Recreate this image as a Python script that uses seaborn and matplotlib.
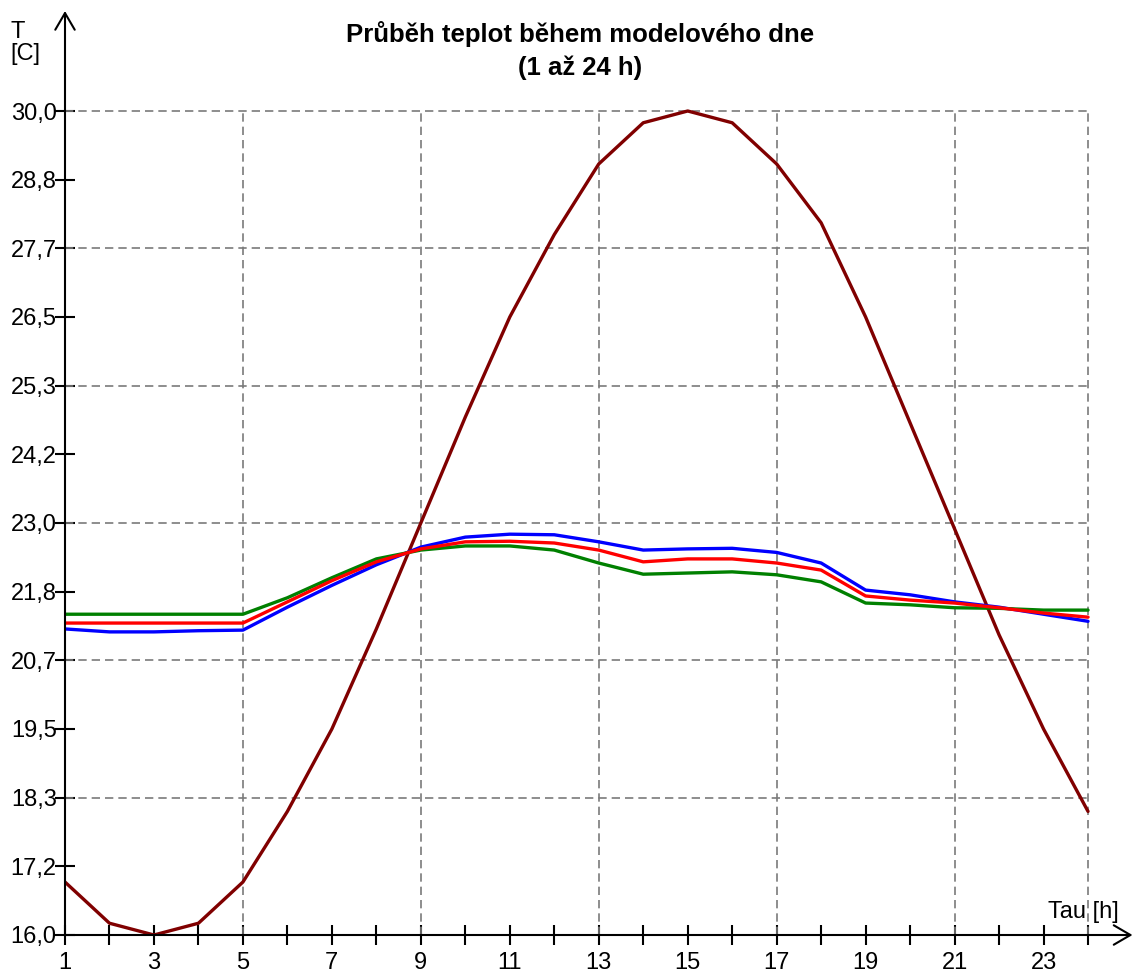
import numpy as np
import pandas as pd
import matplotlib
matplotlib.use("Agg")
import matplotlib.pyplot as plt
import seaborn as sns

# ---------------- data ----------------
hours = list(range(1, 25))
t_outdoor = [16.9, 16.2, 16.0, 16.2, 16.9, 18.1, 19.5, 21.2, 23.0, 24.8, 26.5, 27.9,
             29.1, 29.8, 30.0, 29.8, 29.1, 28.1, 26.5, 24.7, 22.9, 21.1, 19.5, 18.1]
t_blue = [21.20, 21.15, 21.15, 21.17, 21.18, 21.57, 21.94, 22.29, 22.59, 22.76, 22.81, 22.80,
          22.68, 22.54, 22.56, 22.57, 22.50, 22.32, 21.86, 21.78, 21.66, 21.57, 21.45, 21.33]
t_red = [21.30, 21.30, 21.30, 21.30, 21.30, 21.66, 22.02, 22.34, 22.56, 22.68, 22.69, 22.66,
         22.54, 22.34, 22.39, 22.39, 22.32, 22.20, 21.76, 21.69, 21.64, 21.56, 21.47, 21.40]
t_green = [21.45, 21.45, 21.45, 21.45, 21.45, 21.73, 22.07, 22.39, 22.54, 22.61, 22.61, 22.54,
           22.32, 22.13, 22.15, 22.17, 22.12, 22.00, 21.64, 21.61, 21.56, 21.55, 21.52, 21.52]

x_tick_labels = [str(h) if h % 2 == 1 else "" for h in hours]
y_tick_labels = ["16,0", "17,2", "18,3", "19,5", "20,7", "21,8", "23,0",
                 "24,2", "25,3", "26,5", "27,7", "28,8", "30,0"]
title_text = "Průběh teplot během modelového dne\n(1 až 24 h)"
y_label = "T\n[C]"
x_label = "Tau [h]"

# ---------------- style ----------------
sns.set_theme(style="white")
plt.rcParams["font.family"] = ["Liberation Sans", "DejaVu Sans"]
plt.rcParams["text.color"] = "black"
plt.rcParams["xtick.color"] = "black"
plt.rcParams["ytick.color"] = "black"

W, H = 1135, 973
fig = plt.figure(figsize=(W / 100, H / 100), dpi=100)
fig.patch.set_facecolor("white")

# axes placement (pixel-based)
x0_px, x1_px = 65, 1132.5      # x = 1 .. 25
y0_px, y1_px = 935, 11         # y = 16 .. ~31.7
ax = fig.add_axes([x0_px / W, (H - y0_px) / H, (x1_px - x0_px) / W, (y0_px - y1_px) / H])
ax.set_xlim(1, 25)
ax.set_ylim(16, 16 + (y0_px - y1_px) / (824 / 14))
ax.set_facecolor("white")
for s in ax.spines.values():
    s.set_visible(False)

# grid (box region 1..24 x 16..30)
grid_kw = dict(colors="#7a7a7a", linewidth=1.2, linestyles=(0, (5, 3)), zorder=1)
y_ticks = np.linspace(16, 30, 13)
ax.hlines(y_ticks[2::2], 1, 24, **grid_kw)
ax.vlines([5, 9, 13, 17, 21, 24], 16, 30, **grid_kw)

# lines
lw = 2.4
sns.lineplot(x=hours, y=t_outdoor, color="#800000", linewidth=lw, ax=ax, zorder=3)
sns.lineplot(x=hours, y=t_blue, color="#0000FF", linewidth=lw, ax=ax, zorder=4)
sns.lineplot(x=hours, y=t_green, color="#008000", linewidth=lw, ax=ax, zorder=4)
sns.lineplot(x=hours, y=t_red, color="#FF0000", linewidth=lw, ax=ax, zorder=5)

# axes with arrows
arrow_kw = dict(arrowstyle="->,head_length=0.6,head_width=0.35", color="black",
                lw=1.5, shrinkA=0, shrinkB=0, mutation_scale=20)
ax.annotate("", xy=(25, 16), xytext=(1, 16), arrowprops=arrow_kw,
            annotation_clip=False, zorder=6)
ax.annotate("", xy=(1, ax.get_ylim()[1]), xytext=(1, 16), arrowprops=arrow_kw,
            annotation_clip=False, zorder=6)

# ticks
ax.set_xticks(hours)
ax.set_xticklabels(x_tick_labels)
ax.set_yticks(y_ticks)
ax.set_yticklabels(y_tick_labels)
ax.tick_params(axis="both", direction="inout", length=14, width=1.5, colors="black",
               labelcolor="black", labelsize=17, left=True, bottom=True)
ax.tick_params(axis="x", pad=5)
ax.tick_params(axis="y", pad=-1)
ax.set_xlabel("")
ax.set_ylabel("")

# texts
fig.text(580 / W, 1 - 21 / H, title_text, ha="center", va="top", fontsize=18.5,
         fontweight="bold", linespacing=1.45, color="black")
fig.text(10 / W, 1 - 21 / H, y_label, ha="left", va="top", fontsize=17,
         linespacing=1.0, color="black")
fig.text(1048 / W, 1 - 923 / H, x_label, ha="left", va="bottom", fontsize=17,
         color="black")

fig.savefig("out.png", dpi=100, facecolor="white")
